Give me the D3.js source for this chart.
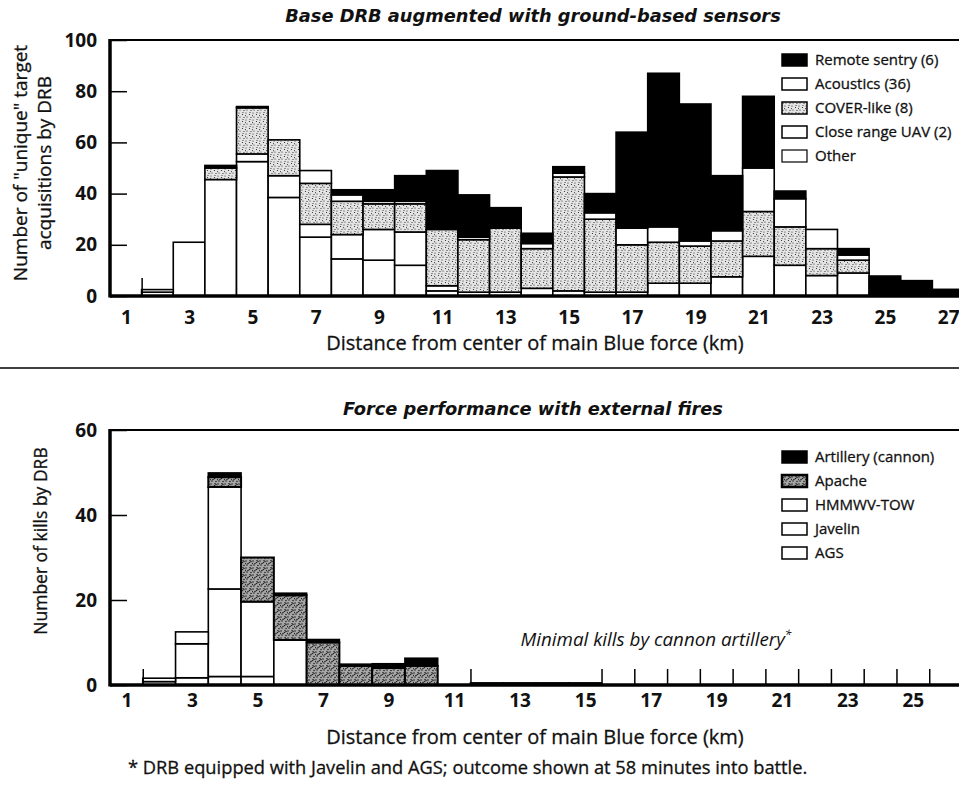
<!DOCTYPE html>
<html><head><meta charset="utf-8">
<script src="https://cdn.jsdelivr.net/npm/d3@7"></script>
<style>
body{margin:0;background:#fff}
svg{display:block}
</style>
</head><body>
<svg id="c" width="959" height="786" font-family="'Open Sans', Lato, sans-serif" fill="#111"></svg>
<script>
// ---------- DATA ----------
// Top chart: bins (km) 2..27
const topBins      = [2,3,4,5,6,7,8,9,10,11,12,13,14,15,16,17,18,19,20,21,22,23,24,25,26,27];
const topOther     = [1.5,21,45.5,52.5,38.5,23,14.5,14,12,2,1.5,1.5,3,2,1.5,1.5,5,5,7.5,15.5,12,8,9,0,0,0];
const topUAV       = [0,0,0,3,8.5,5,9.5,12,13,2,0,0,0,0,0,0,0,0,0,0,0,0,0,0,0,0];
const topCover     = [0,0,4.5,18,14,16,13,10,11,22,20.5,25,15.5,44.5,28.5,18.5,16,14.5,14,17.5,15,10.5,5,0,0,0];
const topAcoustics = [1,0,0,0,0,5,2.5,1,1,0,1,0,2,1.5,2.5,6.5,6,2,4,17,11,7.5,2,0,0,0];
const topSentry    = [0,0,1,0.5,0,0,2,4.5,10,23,16.5,8,4,2.5,7.5,37.5,60,53.5,21.5,28,3,0,2.5,7.8,6,2.6];
const topLegend    = ["Remote sentry (6)","Acoustics (36)","COVER-like (8)","Close range UAV (2)","Other"];
const topXTicks    = [1,3,5,7,9,11,13,15,17,19,21,23,25,27];
const topYTicks    = [0,20,40,60,80,100];
const topEdgeTicks = [1.5];

// Bottom chart: bins (km) 2..25
const botBins      = [2,3,4,5,6,7,8,9,10,11,12,13,14,15,16,17,18,19,20,21,22,23,24,25];
const botAGS       = [0.8,1.7,2,2,0,0,0,0,0,0,0,0,0,0,0,0,0,0,0,0,0,0,0,0];
const botJavelin   = [0.8,8,20.6,17.6,10.6,0,0,0,0,0,0,0,0,0,0,0,0,0,0,0,0,0,0,0];
const botTOW       = [0,2.8,24,0,0,0,0,0,0,0,0,0,0,0,0,0,0,0,0,0,0,0,0,0];
const botApache    = [0,0,2.3,10.4,10.5,10,4.5,4,4.5,0,0,0,0,0,0,0,0,0,0,0,0,0,0,0];
const botArtillery = [0,0,1,0,0.5,0.7,0.4,1,1.8,0,0.5,0.5,0.5,0.5,0,0,0,0,0,0,0,0,0,0];
const botLegend    = ["Artillery (cannon)","Apache","HMMWV-TOW","Javelin","AGS"];
const botXTicks    = [1,3,5,7,9,11,13,15,17,19,21,23,25];
const botYTicks    = [0,20,40,60];
const botEdgeTicks = [1.5,11.5,15.5,16.5,17.5,18.5,19.5,20.5,21.5,22.5,23.5,24.5,25.5];

// ---------- DRAW ----------
const svg = d3.select("#c");
const defs = svg.append("defs");

function stipple(id, bg, dots, r){
  const p = defs.append("pattern").attr("id",id).attr("patternUnits","userSpaceOnUse")
    .attr("width",7).attr("height",7);
  p.append("rect").attr("width",7).attr("height",7).attr("fill",bg);
  dots.forEach(d=>p.append("circle").attr("cx",d[0]).attr("cy",d[1]).attr("r",r).attr("fill","#222"));
}
stipple("cover","#e4e4e4",[[1,1],[4.5,2.5],[2,5],[6,5.5],[5,0.2],[0.3,3.6]],0.6);
stipple("apache","#a8a8a8",[[1,1],[4.5,2.5],[2,5],[6,5.5],[5,0.2],[0.3,3.6],[3,3.5],[6,1.5]],0.8);

function chart(o){
  const x = d3.scaleLinear().domain(o.xDomain).range(o.xRange);
  const y = d3.scaleLinear().domain(o.yDomain).range(o.yRange);
  const g = svg.append("g");
  const x0 = o.xRange[0], yTop = o.yRange[1], yBase = o.yRange[0];

  const rows = o.bins.map((b,i)=>{const r={bin:b}; o.keys.forEach((k,j)=>r[k]=o.series[j][i]); return r;});
  const stack = d3.stack().keys(o.keys)(rows);
  stack.forEach((layer,j)=>{
    g.append("g").selectAll("rect").data(layer.filter(d=>d[1]-d[0]>0)).join("rect")
      .attr("x",d=>x(d.data.bin-0.5))
      .attr("width",d=>x(d.data.bin+0.5)-x(d.data.bin-0.5))
      .attr("y",d=>y(d[1]))
      .attr("height",d=>y(d[0])-y(d[1]))
      .attr("fill",o.fills[j])
      .attr("stroke","#000").attr("stroke-width",o.stroke[j]);
  });

  g.append("line").attr("x1",x0).attr("x2",959).attr("y1",yTop).attr("y2",yTop).attr("stroke","#000").attr("stroke-width",2);
  g.append("line").attr("x1",x0).attr("x2",x0).attr("y1",yTop-1).attr("y2",yBase+1.5).attr("stroke","#000").attr("stroke-width",3.5);
  g.append("line").attr("x1",x0).attr("x2",959).attr("y1",yBase).attr("y2",yBase).attr("stroke","#000").attr("stroke-width",3.5);

  const ya = g.append("g").attr("transform",`translate(${x0},0)`)
    .call(d3.axisLeft(y).tickValues(o.yTicks).tickSizeInner(-17).tickSizeOuter(0).tickPadding(13));
  ya.select(".domain").remove();
  ya.selectAll(".tick line").attr("stroke","#000").attr("stroke-width",1.5);
  ya.selectAll("text").style("font-family","'Open Sans'").style("font-size","19px").style("font-weight","bold").attr("fill","#111");

  const xa = g.append("g").attr("transform",`translate(0,${yBase})`)
    .call(d3.axisBottom(x).tickValues(o.xTicks).tickSize(0).tickPadding(o.xPad));
  xa.select(".domain").remove();
  xa.selectAll("text").style("font-family","'Open Sans'").style("font-size","19px").style("font-weight","bold").attr("fill","#111");

  const ea = g.append("g").attr("transform",`translate(0,${yBase})`)
    .call(d3.axisBottom(x).tickValues(o.edgeTicks).tickSize(-o.edgeLen).tickFormat(""));
  ea.select(".domain").remove();
  ea.selectAll(".tick line").attr("stroke","#000").attr("stroke-width",1.5);

  const lg = g.append("g");
  o.legend.forEach((t,i)=>{
    const yy = o.legY + i*24;
    const j = o.keys.length-1-i;
    lg.append("rect").attr("x",782).attr("y",yy-6).attr("width",25).attr("height",12)
      .attr("fill",o.fills[j]).attr("stroke","#000").attr("stroke-width",o.legStroke[i]);
    lg.append("text").attr("x",815).attr("y",yy+5).style("font-size","15px")
      .attr("stroke","#111").attr("stroke-width",0.3).text(t);
  });

  g.append("text").attr("x",533).attr("y",o.titleY).attr("text-anchor","middle")
    .style("font-family","'DejaVu Sans'").style("font-size","17.8px").style("font-weight","bold").style("font-style","italic").text(o.title);
  g.append("text").attr("x",535).attr("y",o.xTitleY).attr("text-anchor","middle")
    .style("font-size","20px").attr("stroke","#111").attr("stroke-width",0.3)
    .text("Distance from center of main Blue force (km)");
  const yt = g.append("text").attr("transform",`translate(0,${o.yTitleY}) rotate(-90)`)
    .attr("text-anchor","middle").style("font-size",o.yTitleSize+"px").attr("stroke","#111").attr("stroke-width",0.3);
  o.yTitle.forEach((t,i)=>yt.append("tspan").attr("x",0).attr("y",o.yTitleX[i]).text(t));
  return {x,y,g};
}

chart({
  bins: topBins,
  keys:["other","uav","cover","acoustics","sentry"],
  series:[topOther,topUAV,topCover,topAcoustics,topSentry],
  fills:["#fff","#fff","url(#cover)","#fff","#000"],
  stroke:[1.6,1.6,1.6,1.6,1.6],
  legStroke:[1.5,1.5,1.5,1.5,1.2],
  xDomain:[0.5,27.5], xRange:[110,964],
  yDomain:[0,100], yRange:[296,40],
  yTicks: topYTicks, xTicks: topXTicks, xPad:15,
  edgeTicks: topEdgeTicks, edgeLen:18,
  legend: topLegend, legY:60,
  title:"Base DRB augmented with ground-based sensors", titleY:22,
  xTitleY:350,
  yTitle:['Number of "unique" target',"acquisitions by DRB"], yTitleSize:19,
  yTitleX:[27,51], yTitleY:163
});

chart({
  bins: botBins,
  keys:["ags","javelin","tow","apache","artillery"],
  series:[botAGS,botJavelin,botTOW,botApache,botArtillery],
  fills:["#fff","#fff","#fff","url(#apache)","#000"],
  stroke:[1.6,1.6,1.6,2,1.6],
  legStroke:[1.5,2.5,1.5,1.5,1.5],
  xDomain:[0.5,26.5], xRange:[110,962],
  yDomain:[0,60], yRange:[685,430],
  yTicks: botYTicks, xTicks: botXTicks, xPad:9,
  edgeTicks: botEdgeTicks, edgeLen:16,
  legend: botLegend, legY:457,
  title:"Force performance with external fires", titleY:415,
  xTitleY:744,
  yTitle:["Number of kills by DRB"], yTitleSize:17.5,
  yTitleX:[47], yTitleY:541
});

svg.append("line").attr("x1",0).attr("x2",959).attr("y1",368).attr("y2",368).attr("stroke","#000").attr("stroke-width",1.5);

const ann = svg.append("text").attr("x",656).attr("y",646).attr("text-anchor","middle")
  .style("font-size","18.8px").style("font-style","italic");
ann.append("tspan").text("Minimal kills by cannon artillery");
ann.append("tspan").attr("dy",-7).style("font-size","12px").text("*");

svg.append("text").attr("x",128).attr("y",774).style("font-size","18.3px").attr("stroke","#111").attr("stroke-width",0.3)
  .text("* DRB equipped with Javelin and AGS; outcome shown at 58 minutes into battle.");
</script>
</body></html>
